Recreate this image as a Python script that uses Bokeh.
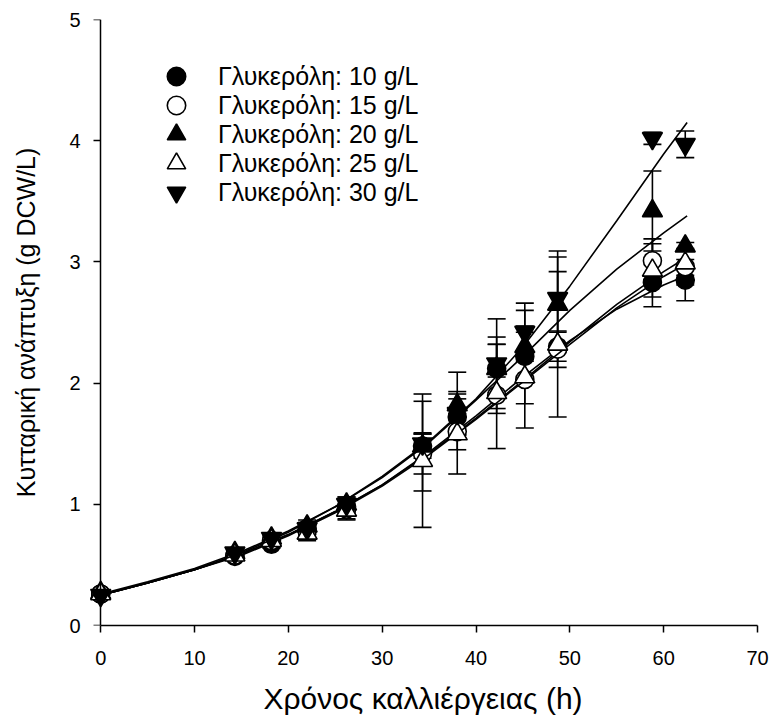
from bokeh.plotting import figure
from bokeh.models import (ColumnDataSource, Whisker, TeeHead, Range1d, Legend,
                          LegendItem, FixedTicker, LinearAxis)
from bokeh.embed import file_html
from bokeh.resources import INLINE

# ---- data ----
times = [0, 14.3, 18.2, 22.0, 26.2, 34.3, 38.0, 42.2, 45.2, 48.7, 58.8, 62.3]

labels = ["Γλυκερόλη: 10 g/L", "Γλυκερόλη: 15 g/L", "Γλυκερόλη: 20 g/L",
          "Γλυκερόλη: 25 g/L", "Γλυκερόλη: 30 g/L"]

g10 = [0.26, 0.57, 0.67, 0.80, 0.98, 1.48, 1.72, 2.12, 2.22, 2.30, 2.83, 2.85]
e10 = [0.02, 0.02, 0.03, 0.05, 0.06, 0.10, 0.15, 0.20, 0.20, 0.12, 0.20, 0.17]
g15 = [0.26, 0.58, 0.70, 0.78, 0.96, 1.42, 1.60, 1.90, 2.03, 2.28, 3.01, 2.96]
e15 = [0.02, 0.02, 0.04, 0.05, 0.08, 0.17, 0.15, 0.15, 0.20, 0.15, 0.18, 0.15]
g20 = [0.27, 0.60, 0.72, 0.82, 1.00, 1.48, 1.82, 2.12, 2.30, 2.65, 3.42, 3.13]
e20 = [0.02, 0.03, 0.04, 0.05, 0.06, 0.37, 0.27, 0.20, 0.30, 0.39, 0.33, 0.03]
g25 = [0.26, 0.58, 0.70, 0.76, 0.95, 1.36, 1.58, 1.92, 2.05, 2.32, 2.93, 2.99]
e25 = [0.02, 0.02, 0.03, 0.06, 0.08, 0.55, 0.33, 0.46, 0.42, 0.60, 0.22, 0.10]
g30 = [0.25, 0.60, 0.72, 0.80, 1.00, 1.50, 1.75, 2.16, 2.42, 2.70, 4.02, 3.97]
e30 = [0.02, 0.02, 0.03, 0.05, 0.06, 0.08, 0.18, 0.37, 0.24, 0.39, 0.05, 0.11]

fit_t = [0, 5, 10, 15, 20, 25, 30, 35, 40, 45, 50, 55, 60, 62.5]
fit10 = [0.25, 0.35, 0.46, 0.59, 0.75, 0.94, 1.16, 1.43, 1.73, 2.05, 2.35, 2.61, 2.81, 2.89]
fit15 = [0.25, 0.35, 0.46, 0.59, 0.75, 0.94, 1.16, 1.42, 1.71, 2.02, 2.34, 2.65, 2.92, 3.04]
fit20 = [0.26, 0.36, 0.47, 0.61, 0.78, 0.98, 1.22, 1.51, 1.86, 2.22, 2.60, 2.94, 3.24, 3.38]
fit25 = [0.25, 0.35, 0.46, 0.58, 0.74, 0.93, 1.15, 1.41, 1.70, 2.01, 2.32, 2.62, 2.88, 2.99]
fit30 = [0.25, 0.35, 0.46, 0.60, 0.77, 0.98, 1.23, 1.52, 1.87, 2.30, 2.80, 3.34, 3.89, 4.15]

x_ticks = [0, 10, 20, 30, 40, 50, 60, 70]
y_ticks = [0, 1, 2, 3, 4, 5]

FONT = "Liberation Sans"

p = figure(width=772, height=722, output_backend="svg", toolbar_location=None,
           x_range=Range1d(-1.3, 70), y_range=Range1d(0, 5),
           min_border_left=88, min_border_right=15, min_border_top=19,
           min_border_bottom=97)
p.outline_line_color = None
p.xgrid.visible = False
p.ygrid.visible = False
p.background_fill_color = "white"
p.border_fill_color = "white"


def style(ax, title_size):
    ax.axis_line_color = "black"
    ax.axis_line_width = 1.5
    ax.major_tick_line_color = "black"
    ax.major_tick_line_width = 1.5
    ax.major_tick_out = 7
    ax.major_tick_in = 0
    ax.minor_tick_line_color = None
    ax.major_label_text_font = FONT
    ax.major_label_text_font_size = "20px"
    ax.major_label_text_color = "black"
    ax.axis_label_text_font = FONT
    ax.axis_label_text_font_size = title_size
    ax.axis_label_text_font_style = "normal"
    ax.axis_label_text_color = "black"


# bottom axis
xa = p.xaxis[0]
style(xa, "30px")
xa.ticker = FixedTicker(ticks=x_ticks)
xa.bounds = (0, 70)
xa.axis_label = "Χρόνος καλλιέργειας (h)"
xa.major_label_standoff = 18
xa.axis_label_standoff = 14

# left axis carrying the labels (at frame edge, no line / ticks)
ya = p.yaxis[0]
style(ya, "25px")
ya.ticker = FixedTicker(ticks=y_ticks)
ya.axis_line_color = None
ya.major_tick_line_color = None
ya.major_tick_out = 0
ya.major_label_standoff = 8
ya.axis_label = "Κυτταρική ανάπτυξη (g DCW/L)"
ya.axis_label_standoff = 26

# left axis line and ticks drawn at x = 0 (ticks as minor ticks: no labels)
ya2 = LinearAxis(ticker=FixedTicker(ticks=[], minor_ticks=y_ticks))
style(ya2, "25px")
ya2.fixed_location = 0
ya2.bounds = (0, 5)
ya2.minor_tick_line_color = "black"
ya2.minor_tick_line_width = 1.5
ya2.minor_tick_out = 7
ya2.minor_tick_in = 0
p.add_layout(ya2, "left")

series = [
    (g10, e10, fit10, "circle", "black", 18),
    (g15, e15, fit15, "circle", "white", 18),
    (g20, e20, fit20, "triangle", "black", 20),
    (g25, e25, fit25, "triangle", "white", 20),
    (g30, e30, fit30, "inverted_triangle", "black", 20),
]

row_y = [76, 105, 134, 163, 192]   # legend row centres (screen px from top)
FRAME_BOTTOM = 625
GLYPH_BOX = 46

for (vals, errs, fit, marker, fill, size), lab, ry in zip(series, labels, row_y):
    p.line(fit_t, fit, line_color="black", line_width=1.6)
    src = ColumnDataSource(dict(
        x=times, y=vals,
        lower=[v - e for v, e in zip(vals, errs)],
        upper=[v + e for v, e in zip(vals, errs)]))
    r = p.scatter("x", "y", source=src, marker=marker, size=size,
                  fill_color=fill, line_color="black", line_width=1.6)
    w = Whisker(source=src, base="x", lower="lower", upper="upper",
                dimension="height", line_color="black", line_width=1.6,
                upper_head=TeeHead(size=18, line_color="black", line_width=1.6),
                lower_head=TeeHead(size=18, line_color="black", line_width=1.6))
    p.add_layout(w)
    leg = Legend(items=[LegendItem(label=lab, renderers=[r])],
                 location=(176 - 88 - GLYPH_BOX // 2,
                           FRAME_BOTTOM - ry - GLYPH_BOX // 2),
                 padding=0, margin=0, spacing=0,
                 glyph_width=GLYPH_BOX, glyph_height=GLYPH_BOX,
                 label_height=20, label_standoff=218 - 176 - GLYPH_BOX // 2,
                 border_line_alpha=0, background_fill_alpha=0,
                 label_text_font=FONT, label_text_font_size="25px",
                 label_text_color="black")
    p.add_layout(leg)

open("out.html", "w").write(file_html(p, INLINE))
